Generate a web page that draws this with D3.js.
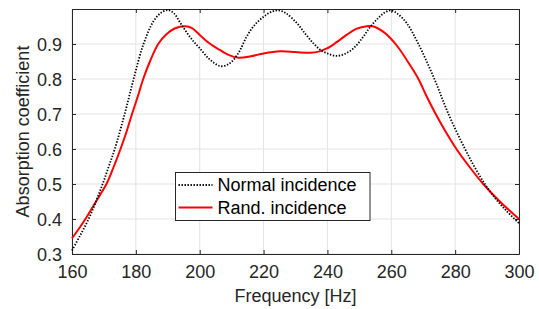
<!DOCTYPE html>
<html>
<head>
<meta charset="utf-8">
<script src="https://cdn.jsdelivr.net/npm/d3@7"></script>
<style>
  body { margin: 0; background: #fff; }
  svg { display: block; font-family: "Liberation Sans", Arial, Helvetica, sans-serif; }
</style>
</head>
<body>
<div id="chart"></div>
<script>
// frequency [Hz] / absorption coefficient
const normalFreq = [160, 162.5, 165.2, 167.5, 169.6, 171.5, 173.4, 176.5, 179.3, 182.4, 185.6, 188, 190.2, 192, 193.8, 196, 198, 200, 203, 206.3, 208.5, 210.5, 212.5, 214.7, 217, 220, 222.5, 224.7, 227, 230.5, 233, 235.6, 238, 240, 242.9, 245.5, 248.2, 251, 253.4, 256, 258, 259.9, 262, 264.8, 268.5, 273.5, 277.9, 283.1, 286, 289.3, 292.5, 296, 300];
const normalAbs  = [0.31, 0.352, 0.40, 0.45, 0.50, 0.55, 0.60, 0.70, 0.80, 0.90, 0.966, 0.99, 0.997, 0.987, 0.962, 0.932, 0.908, 0.888, 0.857, 0.837, 0.84, 0.854, 0.88, 0.921, 0.952, 0.978, 0.992, 0.996, 0.988, 0.959, 0.93, 0.902, 0.882, 0.873, 0.866, 0.872, 0.888, 0.918, 0.949, 0.975, 0.99, 0.996, 0.986, 0.96, 0.90, 0.80, 0.70, 0.60, 0.55, 0.50, 0.46, 0.424, 0.388];

const randFreq = [160, 162, 164.2, 167, 169, 170.8, 173.1, 175.2, 177.1, 178.8, 180.6, 182.3, 184.4, 187, 189.5, 192.3, 195.5, 197.5, 200, 203, 206.3, 209, 212.1, 216, 220, 225.2, 230, 234.6, 237.5, 240, 243, 246, 249, 252.3, 254.5, 257, 259.6, 262.2, 265.5, 268.5, 271.1, 273.9, 277, 280.4, 284.4, 288.8, 294, 300];
const randAbs  = [0.345, 0.37, 0.40, 0.442, 0.472, 0.50, 0.55, 0.60, 0.65, 0.70, 0.75, 0.80, 0.85, 0.90, 0.927, 0.945, 0.951, 0.946, 0.926, 0.902, 0.883, 0.869, 0.861, 0.865, 0.873, 0.879, 0.877, 0.875, 0.879, 0.888, 0.906, 0.926, 0.943, 0.951, 0.95, 0.938, 0.918, 0.89, 0.845, 0.80, 0.75, 0.70, 0.65, 0.60, 0.55, 0.50, 0.45, 0.40];

const xTicks = [160, 180, 200, 220, 240, 260, 280, 300];
const yTicks = [0.3, 0.4, 0.5, 0.6, 0.7, 0.8, 0.9];
const seriesNames = ["Normal incidence", "Rand. incidence"];

const width = 539, height = 309;
const margin = { top: 9, right: 20, bottom: 55, left: 72 };
const axisColor = "#262626";
const fontSize = 18;

const svg = d3.select("#chart").append("svg")
    .attr("width", width)
    .attr("height", height);

const x = d3.scaleLinear().domain([160, 300]).range([margin.left, width - margin.right]);
const y = d3.scaleLinear().domain([0.3, 1.0]).range([height - margin.bottom, margin.top]);

// grid
const grid = svg.append("g").attr("stroke", "#e3e3e3").attr("stroke-width", 1);
grid.selectAll("line.gx").data(xTicks).join("line")
    .attr("x1", d => x(d)).attr("x2", d => x(d))
    .attr("y1", y(0.3)).attr("y2", y(1.0));
grid.selectAll("line.gy").data(yTicks).join("line")
    .attr("x1", x(160)).attr("x2", x(300))
    .attr("y1", d => y(d)).attr("y2", d => y(d));

// axes (ticks pointing in, MATLAB style)
const xAxis = svg.append("g")
    .attr("transform", `translate(0,${y(0.3)})`)
    .call(d3.axisBottom(x).tickValues(xTicks).tickSizeInner(-4).tickSizeOuter(0).tickPadding(11));
const xTop = svg.append("g")
    .attr("transform", `translate(0,${y(1.0)})`)
    .call(d3.axisTop(x).tickValues(xTicks).tickSizeInner(-4).tickSizeOuter(0).tickFormat(""));
const yAxis = svg.append("g")
    .attr("transform", `translate(${x(160)},0)`)
    .call(d3.axisLeft(y).tickValues(yTicks).tickSizeInner(-4).tickSizeOuter(0).tickPadding(10).tickFormat(d3.format(".1f")));
const yRight = svg.append("g")
    .attr("transform", `translate(${x(300)},0)`)
    .call(d3.axisRight(y).tickValues(yTicks).tickSizeInner(-4).tickSizeOuter(0).tickFormat(""));

[xAxis, xTop, yAxis, yRight].forEach(g => {
    g.select(".domain").attr("stroke", axisColor).attr("stroke-width", 1);
    g.selectAll(".tick line").attr("stroke", axisColor);
    g.selectAll(".tick text")
        .attr("fill", axisColor)
        .attr("font-size", fontSize)
        .attr("font-family", "Liberation Sans, Arial, sans-serif");
});
yAxis.selectAll(".tick text").attr("dy", "0.36em");

// lines
const line = d3.line()
    .x(d => x(d[0]))
    .y(d => y(d[1]))
    .curve(d3.curveCatmullRom.alpha(0.5));

const normalData = normalFreq.map((f, i) => [f, normalAbs[i]]);
const randData = randFreq.map((f, i) => [f, randAbs[i]]);

svg.append("path")
    .datum(randData)
    .attr("d", line)
    .attr("fill", "none")
    .attr("stroke", "#ff0000")
    .attr("stroke-width", 2);

svg.append("path")
    .datum(normalData)
    .attr("d", line)
    .attr("fill", "none")
    .attr("stroke", "#000")
    .attr("stroke-width", 1.8)
    .attr("stroke-dasharray", "1.4,1.6");

// axis labels
svg.append("text")
    .attr("x", (x(160) + x(300)) / 2)
    .attr("y", 302)
    .attr("text-anchor", "middle")
    .attr("font-size", fontSize)
    .attr("fill", axisColor)
    .text("Frequency [Hz]");

svg.append("text")
    .attr("transform", `translate(29,${(y(0.3) + y(1.0)) / 2}) rotate(-90)`)
    .attr("text-anchor", "middle")
    .attr("font-size", fontSize)
    .attr("fill", axisColor)
    .text("Absorption coefficient");

// legend
const legend = svg.append("g").attr("transform", "translate(175.5,172.5)");
legend.append("rect")
    .attr("width", 194.5)
    .attr("height", 48)
    .attr("fill", "#fff")
    .attr("stroke", axisColor)
    .attr("stroke-width", 1);

const rows = legend.selectAll("g.row").data(seriesNames).join("g")
    .attr("transform", (d, i) => `translate(0,${12.5 + i * 22.5})`);
rows.append("line")
    .attr("x1", 3).attr("x2", 37)
    .attr("stroke", (d, i) => i === 0 ? "#000" : "#ff0000")
    .attr("stroke-width", (d, i) => i === 0 ? 1.8 : 2)
    .attr("stroke-dasharray", (d, i) => i === 0 ? "1.4,1.6" : null);
rows.append("text")
    .attr("x", 42)
    .attr("dy", "0.36em")
    .attr("font-size", fontSize)
    .attr("fill", "#000")
    .text(d => d);
</script>
</body>
</html>
